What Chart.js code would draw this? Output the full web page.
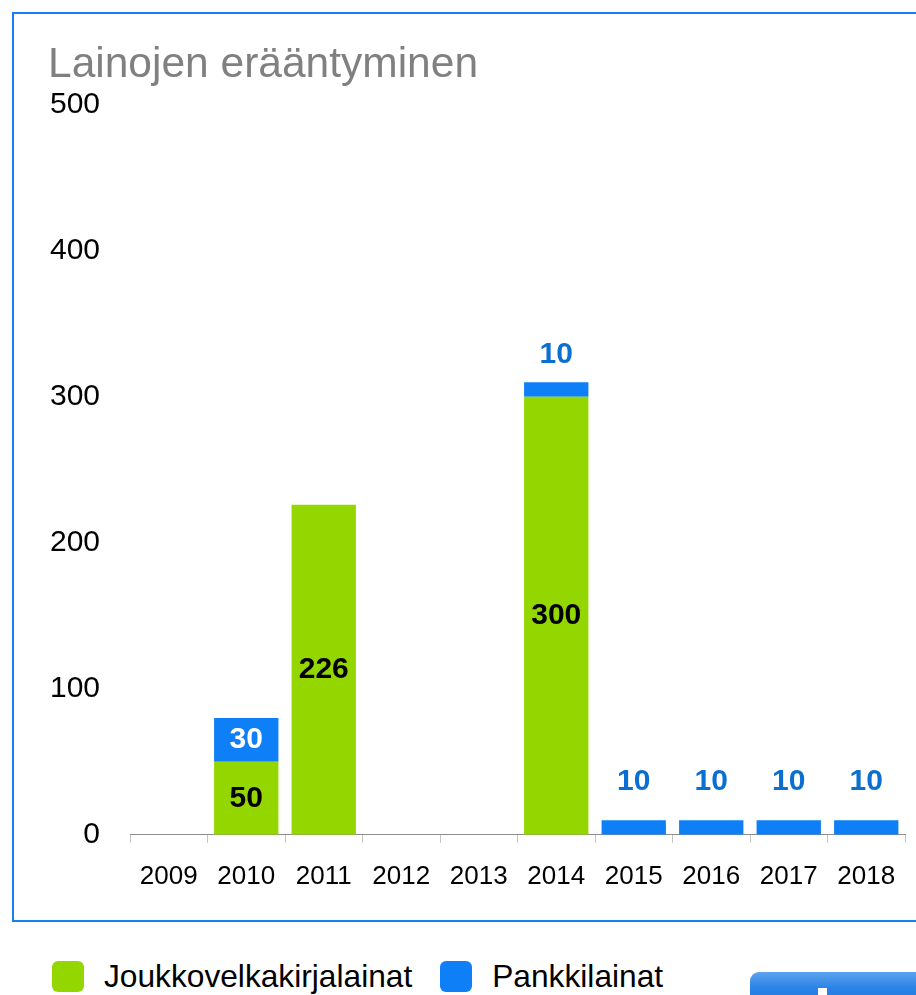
<!DOCTYPE html>
<html lang="fi">
<head>
<meta charset="utf-8">
<title>Lainojen erääntyminen</title>
<script src="https://cdn.jsdelivr.net/npm/chart.js@4"></script>
<style>
  html, body {
    margin: 0;
    padding: 0;
    background: #fff;
    width: 916px;
    height: 995px;
    overflow: hidden;
    font-family: "Liberation Sans", Arial, sans-serif;
  }
  #frame {
    position: absolute;
    left: 12px;
    top: 12px;
    width: 930px;
    height: 910px;
    box-sizing: border-box;
    border: 2px solid #1580ee;
    pointer-events: none;
  }
  #chart-box {
    position: absolute;
    left: 0;
    top: 0;
    width: 916px;
    height: 919px;
  }
  #legend {
    position: absolute;
    left: 52px;
    top: 961px;
    display: flex;
    align-items: center;
    font-size: 31.7px;
    line-height: 31px;
    color: #000;
  }
  .legend-item {
    display: flex;
    align-items: center;
    margin-right: 28px;
  }
  .legend-swatch {
    width: 32px;
    height: 31px;
    border-radius: 6px;
    margin-right: 20px;
  }
  #button {
    position: absolute;
    left: 750px;
    top: 972px;
    width: 190px;
    height: 40px;
    border-radius: 9px;
    background: linear-gradient(#5ea3ef, #2a83e6 40%, #1b72d6);
  }
  #button span {
    position: absolute;
    left: 68px;
    top: 16px;
    width: 9px;
    height: 12px;
    background: #fff;
  }
</style>
</head>
<body>
<div id="chart-box"><canvas id="loan-chart"></canvas></div>
<div id="frame"></div>
<div id="legend"></div>
<div id="button"><span></span></div>

<script>
// Maturity years
const years = ['2009', '2010', '2011', '2012', '2013', '2014', '2015', '2016', '2017', '2018'];

// Joukkovelkakirjalainat (bond loans)
const bondLoans = [0, 50, 226, 0, 0, 300, 0, 0, 0, 0];

// Pankkilainat (bank loans)
const bankLoans = [0, 30, 0, 0, 0, 10, 10, 10, 10, 10];

const seriesNames = ['Joukkovelkakirjalainat', 'Pankkilainat'];
const yMax = 500;
const yStep = 100;

const GREEN = '#94d700';
const BLUE = '#0e7ff6';
const BLUE_TEXT = '#0b6fd2';
const FONT = '"Liberation Sans", Arial, sans-serif';

// Draws the numbers on / above the bars
const valueLabels = {
  id: 'valueLabels',
  afterDatasetsDraw(chart) {
    const ctx = chart.ctx;
    const greenBars = chart.getDatasetMeta(0).data;
    const blueBars = chart.getDatasetMeta(1).data;

    ctx.save();
    ctx.font = 'bold 30px ' + FONT;
    ctx.textAlign = 'center';
    ctx.textBaseline = 'middle';

    bondLoans.forEach((v, i) => {
      if (!v) return;
      const bar = greenBars[i];
      ctx.fillStyle = '#000';
      ctx.fillText(String(v), bar.x, (bar.y + bar.base) / 2);
    });

    bankLoans.forEach((v, i) => {
      if (!v) return;
      const bar = blueBars[i];
      const h = bar.base - bar.y;
      if (h > 36) {
        // tall enough: write inside
        ctx.fillStyle = '#fff';
        ctx.fillText(String(v), bar.x, (bar.y + bar.base) / 2);
      } else if (bondLoans[i]) {
        ctx.fillStyle = BLUE_TEXT;
        ctx.fillText(String(v), bar.x, bar.y - 27);
      } else {
        ctx.fillStyle = BLUE_TEXT;
        ctx.fillText(String(v), bar.x, bar.y - 38);
      }
    });
    ctx.restore();
  }
};

const chart = new Chart(document.getElementById('loan-chart'), {
  type: 'bar',
  data: {
    labels: years,
    datasets: [
      {
        label: seriesNames[0],
        data: bondLoans,
        backgroundColor: GREEN,
        borderWidth: 0,
        barPercentage: 0.83,
        categoryPercentage: 1
      },
      {
        label: seriesNames[1],
        data: bankLoans,
        backgroundColor: BLUE,
        borderWidth: 0,
        barPercentage: 0.83,
        categoryPercentage: 1
      }
    ]
  },
  options: {
    responsive: true,
    maintainAspectRatio: false,
    animation: false,
    layout: {
      padding: { left: 48, right: 11, top: 0, bottom: 9 }
    },
    scales: {
      x: {
        stacked: true,
        grid: {
          display: true,
          drawOnChartArea: false,
          drawTicks: true,
          tickLength: 8,
          color: '#c4c4c4'
        },
        border: {
          display: true,
          color: '#8e8e8e',
          width: 1
        },
        ticks: {
          color: '#000',
          padding: 18,
          font: { family: FONT, size: 26 }
        }
      },
      y: {
        stacked: true,
        min: 0,
        max: yMax,
        grid: { display: false, drawTicks: false },
        border: { display: false },
        ticks: {
          stepSize: yStep,
          color: '#000',
          padding: 30,
          font: { family: FONT, size: 30 }
        },
        afterFit(scale) {
          scale.width = 82;
        }
      }
    },
    plugins: {
      legend: { display: false },
      tooltip: { enabled: false },
      title: {
        display: true,
        text: 'Lainojen erääntyminen',
        align: 'start',
        color: '#808080',
        font: { family: FONT, size: 42.5, weight: 'normal', lineHeight: 1.1 },
        padding: { top: 42, bottom: 16 }
      }
    }
  },
  plugins: [valueLabels]
});

// HTML legend built from the datasets
const legend = document.getElementById('legend');
chart.data.datasets.forEach(ds => {
  const item = document.createElement('div');
  item.className = 'legend-item';
  const swatch = document.createElement('div');
  swatch.className = 'legend-swatch';
  swatch.style.background = ds.backgroundColor;
  const text = document.createElement('span');
  text.textContent = ds.label;
  item.appendChild(swatch);
  item.appendChild(text);
  legend.appendChild(item);
});
</script>
</body>
</html>
